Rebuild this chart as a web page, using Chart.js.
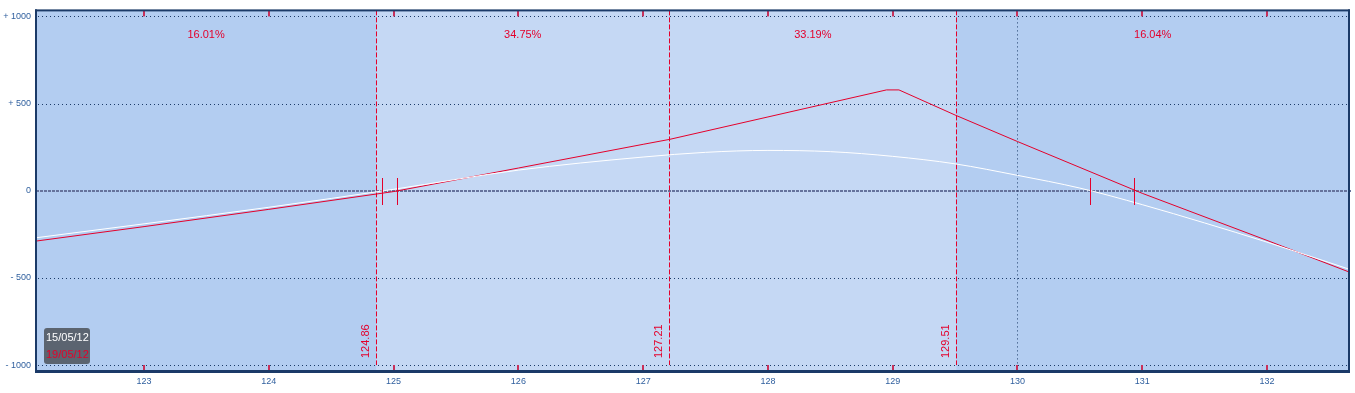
<!DOCTYPE html>
<html>
<head>
<meta charset="utf-8">
<script src="https://cdn.jsdelivr.net/npm/chart.js@4.4.0/dist/chart.umd.min.js"></script>
<style>
  html, body { margin: 0; padding: 0; background: #fff; overflow: hidden; }
  canvas { display: block; }
</style>
</head>
<body>
<canvas id="payoff" width="1355" height="393"></canvas>
<script>
// axis ranges and ticks
const xMin = 122.134, xMax = 132.657;
const yMin = -1034, yMax = 1034;
const priceTicks = [123, 124, 125, 126, 127, 128, 129, 130, 131, 132];
const plTicks = [-1000, -500, 0, 500, 1000];

// expiry P/L (red) and current P/L (white)
const expiryX = [122.134, 123, 124, 125, 126, 127, 127.21, 128, 128.95, 129.05, 129.5, 130, 131, 132, 132.657];
const expiryY = [-289, -206, -107, -5, 130, 266, 294, 423, 578, 578, 434, 282, -15, -285, -466];
const todayX = [122.134, 123, 124, 125, 126, 127, 127.5, 128, 128.5, 129, 129.5, 130, 130.5, 131, 131.5, 132, 132.657];
const todayY = [-270, -190, -95, 8, 118, 193, 220, 231, 224, 197, 154, 88, 15, -80, -185, -295, -450];

// price bands, probabilities, breakevens
const bandEdges = [124.86, 127.21, 129.51];
const bandProbs = ['16.01%', '34.75%', '33.19%', '16.04%'];
const spotPrice = 130;
const breakevens = [124.91, 125.03, 130.58, 130.93];
const dates = ['15/05/12', '19/05/12'];

const FONT = '"Liberation Sans", Arial, sans-serif';
const RED = '#e4002b';
const NAVY = '#1b3a68';

// dashed vertical line made of filled rects
function vDash(ctx, px, y1, y2, on, off, color) {
    ctx.fillStyle = color;
    for (let yy = y1; yy < y2; yy += on + off) {
        ctx.fillRect(px, yy, 1, Math.min(on, y2 - yy));
    }
}

const overlay = {
    id: 'overlay',
    beforeDatasetsDraw(chart) {
        const { ctx, chartArea: a, scales: { x, y } } = chart;
        ctx.save();
        // background bands
        const xe = bandEdges.map(v => x.getPixelForValue(v));
        ctx.fillStyle = '#b3cdf1';
        ctx.fillRect(a.left, a.top, a.right - a.left, a.bottom - a.top);
        ctx.fillStyle = '#c5d8f4';
        ctx.fillRect(xe[0], a.top, xe[2] - xe[0], a.bottom - a.top);

        // horizontal grid
        plTicks.forEach(v => {
            const py = Math.round(y.getPixelForValue(v));
            if (v === 0) {
                ctx.fillStyle = '#66739c';
                for (let xx = a.left; xx < a.right; xx += 4) ctx.fillRect(xx, py - 1, 3, 2);
            } else {
                ctx.fillStyle = NAVY;
                for (let xx = a.left + 2; xx < a.right; xx += 4) ctx.fillRect(xx, py, 1, 1);
            }
        });

        // spot line
        const sx = Math.round(x.getPixelForValue(spotPrice));
        vDash(ctx, sx, a.top, a.bottom, 1, 3, NAVY);

        // band edges + labels
        const yEnd = y.getPixelForValue(-1000);
        ctx.font = '11px ' + FONT;
        ctx.textAlign = 'left';
        ctx.textBaseline = 'middle';
        bandEdges.forEach((v, i) => {
            const px = Math.round(xe[i]);
            vDash(ctx, px, a.top, yEnd, 5, 2, RED);
            ctx.save();
            ctx.fillStyle = RED;
            ctx.translate(px - 10, a.bottom - 13);
            ctx.rotate(-Math.PI / 2);
            ctx.fillText(v.toFixed(2), 0, 0);
            ctx.restore();
        });

        // probabilities
        const bounds = [xMin, ...bandEdges, xMax];
        ctx.fillStyle = RED;
        ctx.textAlign = 'center';
        bandProbs.forEach((p, i) => {
            const cx = x.getPixelForValue((bounds[i] + bounds[i + 1]) / 2);
            ctx.fillText(p, cx, a.top + 25);
        });
        ctx.restore();
    },
    afterDatasetsDraw(chart) {
        const { ctx, chartArea: a, scales: { x, y } } = chart;
        ctx.save();
        // breakeven markers
        const y0 = Math.round(y.getPixelForValue(0));
        ctx.fillStyle = RED;
        breakevens.forEach(v => {
            const px = Math.round(x.getPixelForValue(v));
            ctx.fillRect(px, y0 - 13, 1, 27);
        });

        // tick marks on top/bottom edge
        ctx.fillStyle = '#c8305a';
        priceTicks.forEach(v => {
            const px = Math.round(x.getPixelForValue(v));
            ctx.fillRect(px - 1, a.top, 2, 6);
            ctx.fillRect(px - 1, a.bottom - 6, 2, 6);
        });

        // frame
        ctx.fillStyle = NAVY;
        ctx.fillRect(a.left - 1, a.top - 1, a.right - a.left + 2, 2);
        ctx.fillRect(a.left - 1, a.top - 1, 2, a.bottom - a.top + 2);
        ctx.fillRect(a.right - 1, a.top - 1, 2, a.bottom - a.top + 2);
        ctx.fillRect(a.left - 1, a.bottom - 1, a.right - a.left + 2, 3);

        // date box
        const bx = a.left + 8, by = a.bottom - 43, bw = 46, bh = 36;
        ctx.fillStyle = '#5b6470';
        ctx.beginPath();
        ctx.roundRect(bx, by, bw, bh, 3);
        ctx.fill();
        ctx.font = '11px ' + FONT;
        ctx.textAlign = 'left';
        ctx.textBaseline = 'middle';
        ctx.fillStyle = '#ffffff';
        ctx.fillText(dates[0], bx + 2, by + 10);
        ctx.fillStyle = RED;
        ctx.fillText(dates[1], bx + 2, by + 27);
        ctx.restore();
    }
};

new Chart(document.getElementById('payoff'), {
    type: 'line',
    data: {
        datasets: [
            {
                label: dates[0],
                data: todayX.map((v, i) => ({ x: v, y: todayY[i] })),
                borderColor: '#ffffff',
                borderWidth: 1,
                cubicInterpolationMode: 'monotone',
                pointRadius: 0,
            },
            {
                label: dates[1],
                data: expiryX.map((v, i) => ({ x: v, y: expiryY[i] })),
                borderColor: RED,
                borderWidth: 1,
                tension: 0,
                pointRadius: 0,
            },
        ],
    },
    plugins: [overlay],
    options: {
        responsive: false,
        animation: false,
        devicePixelRatio: 1,
        layout: { padding: { top: 8, right: 6, left: 0, bottom: 0 } },
        plugins: { legend: { display: false }, tooltip: { enabled: false } },
        scales: {
            x: {
                type: 'linear',
                min: xMin,
                max: xMax,
                afterBuildTicks: s => { s.ticks = priceTicks.map(v => ({ value: v })); },
                afterFit: s => { s.height = 22; },
                grid: { display: false, drawTicks: false },
                border: { display: false },
                ticks: {
                    autoSkip: false, maxRotation: 0, padding: 5,
                    color: '#2f5f9e', font: { family: FONT, size: 9 },
                    callback: v => String(v),
                },
            },
            y: {
                min: yMin,
                max: yMax,
                afterBuildTicks: s => { s.ticks = plTicks.map(v => ({ value: v })); },
                afterFit: s => { s.width = 36; },
                grid: { display: false, drawTicks: false },
                border: { display: false },
                ticks: {
                    padding: 5,
                    color: '#2f5f9e', font: { family: FONT, size: 9 },
                    callback: v => v > 0 ? '+ ' + v : v < 0 ? '- ' + Math.abs(v) : '0',
                },
            },
        },
    },
});
</script>
</body>
</html>
